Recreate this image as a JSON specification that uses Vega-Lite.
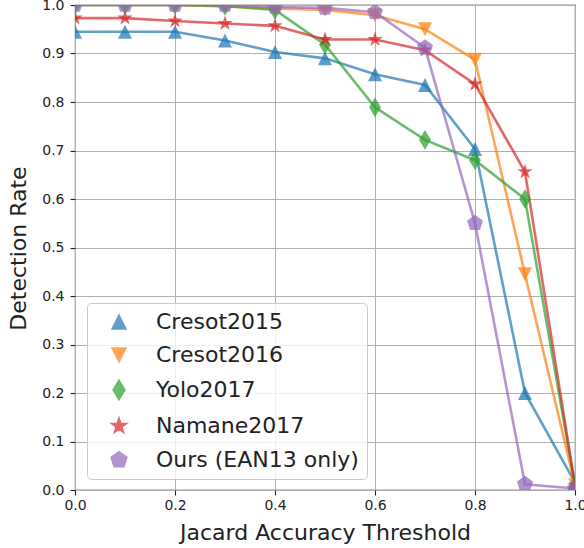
{
  "$schema": "https://vega.github.io/schema/vega-lite/v6.json",
  "autosize": {"type": "none"},
  "padding": {"left": 75, "top": 5, "right": 9, "bottom": 58},
  "width": 500,
  "height": 485,
  "background": "white",
  "config": {
    "font": "DejaVu Sans",
    "view": {"stroke": "#222222", "strokeWidth": 1.1},
    "axis": {
      "labelFont": "DejaVu Sans",
      "labelFontSize": 14,
      "labelColor": "#222222",
      "titleFont": "DejaVu Sans",
      "titleFontSize": 22,
      "titleFontWeight": "normal",
      "titleColor": "#222222",
      "grid": true,
      "gridColor": "#b0b0b0",
      "gridWidth": 1,
      "gridOpacity": 1,
      "domain": false,
      "tickColor": "#222222",
      "tickSize": 5,
      "tickWidth": 1.1,
      "labelFlush": false,
      "labelOverlap": false
    },
    "legend": {
      "title": null,
      "orient": "none",
      "legendX": 12,
      "legendY": 298,
      "labelFont": "DejaVu Sans",
      "labelFontSize": 22,
      "labelColor": "#222222",
      "labelLimit": 400,
      "fillColor": "rgba(255,255,255,0.8)",
      "strokeColor": "#cccccc",
      "cornerRadius": 4,
      "padding": 8,
      "symbolSize": 196,
      "symbolOffset": 13,
      "labelOffset": 26,
      "rowPadding": 11
    }
  },
  "data": {
    "values": [
      {"threshold": 0.0, "rate": 0.945, "method": "Cresot2015"},
      {"threshold": 0.1, "rate": 0.945, "method": "Cresot2015"},
      {"threshold": 0.2, "rate": 0.945, "method": "Cresot2015"},
      {"threshold": 0.3, "rate": 0.927, "method": "Cresot2015"},
      {"threshold": 0.4, "rate": 0.903, "method": "Cresot2015"},
      {"threshold": 0.5, "rate": 0.89, "method": "Cresot2015"},
      {"threshold": 0.6, "rate": 0.857, "method": "Cresot2015"},
      {"threshold": 0.7, "rate": 0.835, "method": "Cresot2015"},
      {"threshold": 0.8, "rate": 0.703, "method": "Cresot2015"},
      {"threshold": 0.9, "rate": 0.2, "method": "Cresot2015"},
      {"threshold": 1.0, "rate": 0.015, "method": "Cresot2015"},
      {"threshold": 0.0, "rate": 1.0, "method": "Cresot2016"},
      {"threshold": 0.1, "rate": 1.0, "method": "Cresot2016"},
      {"threshold": 0.2, "rate": 1.0, "method": "Cresot2016"},
      {"threshold": 0.3, "rate": 0.997, "method": "Cresot2016"},
      {"threshold": 0.4, "rate": 0.993, "method": "Cresot2016"},
      {"threshold": 0.5, "rate": 0.99, "method": "Cresot2016"},
      {"threshold": 0.6, "rate": 0.979, "method": "Cresot2016"},
      {"threshold": 0.7, "rate": 0.95, "method": "Cresot2016"},
      {"threshold": 0.8, "rate": 0.887, "method": "Cresot2016"},
      {"threshold": 0.9, "rate": 0.445, "method": "Cresot2016"},
      {"threshold": 1.0, "rate": 0.01, "method": "Cresot2016"},
      {"threshold": 0.0, "rate": 1.0, "method": "Yolo2017"},
      {"threshold": 0.1, "rate": 1.0, "method": "Yolo2017"},
      {"threshold": 0.2, "rate": 1.0, "method": "Yolo2017"},
      {"threshold": 0.3, "rate": 0.998, "method": "Yolo2017"},
      {"threshold": 0.4, "rate": 0.99, "method": "Yolo2017"},
      {"threshold": 0.5, "rate": 0.918, "method": "Yolo2017"},
      {"threshold": 0.6, "rate": 0.789, "method": "Yolo2017"},
      {"threshold": 0.7, "rate": 0.722, "method": "Yolo2017"},
      {"threshold": 0.8, "rate": 0.68, "method": "Yolo2017"},
      {"threshold": 0.9, "rate": 0.6, "method": "Yolo2017"},
      {"threshold": 1.0, "rate": 0.01, "method": "Yolo2017"},
      {"threshold": 0.0, "rate": 0.973, "method": "Namane2017"},
      {"threshold": 0.1, "rate": 0.973, "method": "Namane2017"},
      {"threshold": 0.2, "rate": 0.967, "method": "Namane2017"},
      {"threshold": 0.3, "rate": 0.962, "method": "Namane2017"},
      {"threshold": 0.4, "rate": 0.957, "method": "Namane2017"},
      {"threshold": 0.5, "rate": 0.929, "method": "Namane2017"},
      {"threshold": 0.6, "rate": 0.929, "method": "Namane2017"},
      {"threshold": 0.7, "rate": 0.907, "method": "Namane2017"},
      {"threshold": 0.8, "rate": 0.837, "method": "Namane2017"},
      {"threshold": 0.9, "rate": 0.656, "method": "Namane2017"},
      {"threshold": 1.0, "rate": 0.01, "method": "Namane2017"},
      {"threshold": 0.0, "rate": 1.0, "method": "Ours (EAN13 only)"},
      {"threshold": 0.1, "rate": 1.0, "method": "Ours (EAN13 only)"},
      {"threshold": 0.2, "rate": 1.0, "method": "Ours (EAN13 only)"},
      {"threshold": 0.3, "rate": 1.0, "method": "Ours (EAN13 only)"},
      {"threshold": 0.4, "rate": 0.996, "method": "Ours (EAN13 only)"},
      {"threshold": 0.5, "rate": 0.994, "method": "Ours (EAN13 only)"},
      {"threshold": 0.6, "rate": 0.985, "method": "Ours (EAN13 only)"},
      {"threshold": 0.7, "rate": 0.912, "method": "Ours (EAN13 only)"},
      {"threshold": 0.8, "rate": 0.55, "method": "Ours (EAN13 only)"},
      {"threshold": 0.9, "rate": 0.012, "method": "Ours (EAN13 only)"},
      {"threshold": 1.0, "rate": 0.003, "method": "Ours (EAN13 only)"}
    ]
  },
  "encoding": {
    "x": {
      "field": "threshold",
      "type": "quantitative",
      "scale": {"domain": [0, 1], "nice": false, "zero": false},
      "axis": {
        "title": "Jacard Accuracy Threshold",
        "values": [0, 0.2, 0.4, 0.6, 0.8, 1.0],
        "format": ".1f",
        "labelPadding": 3,
        "titleX": 250,
        "titleY": 49,
        "titleBaseline": "alphabetic",
        "titleAlign": "center"
      }
    },
    "y": {
      "field": "rate",
      "type": "quantitative",
      "scale": {"domain": [0, 1], "nice": false, "zero": false},
      "axis": {
        "title": "Detection Rate",
        "values": [0, 0.1, 0.2, 0.3, 0.4, 0.5, 0.6, 0.7, 0.8, 0.9, 1.0],
        "format": ".1f",
        "labelPadding": 6,
        "titleX": -57,
        "titleY": 243,
        "titleAngle": -90,
        "titleBaseline": "middle",
        "titleAlign": "center"
      }
    },
    "color": {
      "field": "method",
      "type": "nominal",
      "scale": {
        "domain": ["Cresot2015", "Cresot2016", "Yolo2017", "Namane2017", "Ours (EAN13 only)"],
        "range": ["#1f77b4", "#ff7f0e", "#2ca02c", "#d62728", "#9467bd"]
      },
      "legend": {
        "encode": {
          "symbols": {
            "shape": {"value": {"expr": "'M-3.35,-0.18H3.35V0.18H-3.35Z' + scale('shape', datum.value)"}},
            "fill": {"value": {"expr": "scale('color', datum.value)"}},
            "fillOpacity": {"value": 0.72},
            "strokeWidth": {"value": 0},
            "opacity": {"value": 1}
          }
        }
      }
    }
  },
  "layer": [
    {
      "mark": {"type": "line", "strokeWidth": 2.6, "opacity": 0.7, "clip": true}
    },
    {
      "mark": {"type": "point", "filled": true, "size": 196, "opacity": 0.72, "clip": true},
      "encoding": {
        "shape": {
          "field": "method",
          "type": "nominal",
          "scale": {
            "domain": ["Cresot2015", "Cresot2016", "Yolo2017", "Namane2017", "Ours (EAN13 only)"],
            "range": [
              "M0,-1L1,1L-1,1Z",
              "M0,1L-1,-1L1,-1Z",
              "M0,-1.4L0.85,0L0,1.4L-0.85,0Z",
              "M0,-1.15L0.258,-0.355L1.094,-0.355L0.418,0.136L0.676,0.93L0,0.439L-0.676,0.93L-0.418,0.136L-1.094,-0.355L-0.258,-0.355Z",
              "M0,-1.2L1.14,-0.37L0.71,0.97L-0.71,0.97L-1.14,-0.37Z"
            ]
          },
          "legend": null
        }
      }
    }
  ]
}
